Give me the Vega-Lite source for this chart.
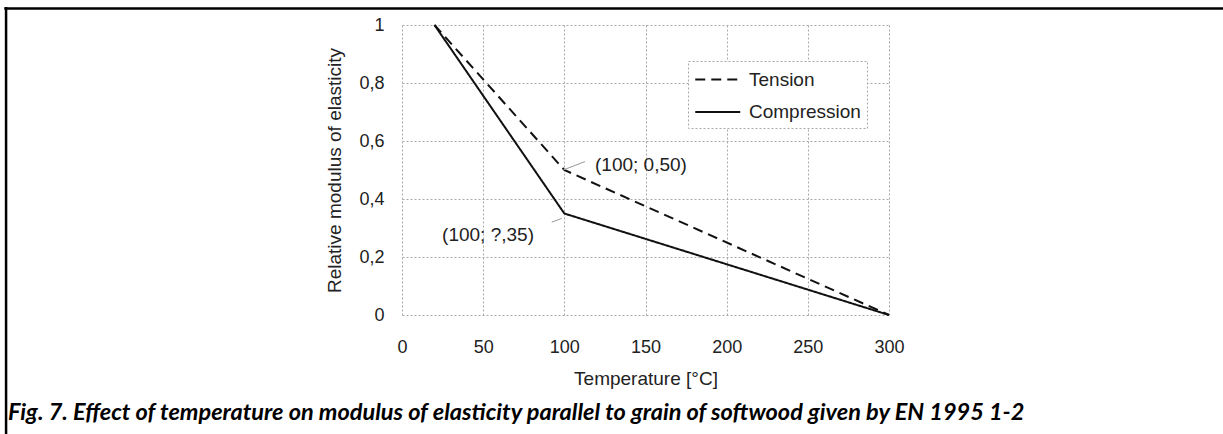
{
  "$schema": "https://vega.github.io/schema/vega-lite/v6.json",
  "width": 487,
  "height": 290,
  "autosize": "none",
  "padding": {"left": 402, "top": 25, "right": 334, "bottom": 119},
  "background": "white",
  "config": {
    "view": {"stroke": null},
    "font": "Liberation Sans",
    "axis": {
      "grid": true,
      "gridColor": "#a8a8a8",
      "gridDash": [2, 2],
      "gridWidth": 1,
      "domain": false,
      "ticks": false,
      "labelFlush": false,
      "labelBound": false,
      "labelOverlap": false,
      "labelFont": "Liberation Sans",
      "labelFontSize": 18,
      "labelColor": "#222",
      "titleFont": "Liberation Sans",
      "titleFontSize": 19,
      "titleFontWeight": "normal",
      "titleColor": "#222"
    }
  },
  "layer": [
    {
      "data": {"values": [{"k": 1}]},
      "mark": {"type": "rule", "color": "black", "strokeWidth": 2.5},
      "encoding": {
        "x": {"datum": -245, "type": "quantitative"},
        "x2": {"datum": 506},
        "y": {"datum": 1.0569, "type": "quantitative"}
      }
    },
    {
      "data": {"values": [{"k": 1}]},
      "mark": {"type": "rule", "color": "black", "strokeWidth": 2.5},
      "encoding": {
        "x": {"datum": -243.9, "type": "quantitative"},
        "y": {"datum": 1.062, "type": "quantitative"},
        "y2": {"datum": -0.42}
      }
    },
    {
      "data": {
        "values": [
          {"series": "Tension", "temp": 20, "value": 1},
          {"series": "Tension", "temp": 100, "value": 0.5},
          {"series": "Tension", "temp": 300, "value": 0},
          {"series": "Compression", "temp": 20, "value": 1},
          {"series": "Compression", "temp": 100, "value": 0.35},
          {"series": "Compression", "temp": 300, "value": 0}
        ]
      },
      "mark": {"type": "line", "color": "#111", "strokeWidth": 2},
      "encoding": {
        "x": {
          "field": "temp",
          "type": "quantitative",
          "scale": {"domain": [0, 300], "nice": false, "zero": false},
          "axis": {
            "values": [0, 50, 100, 150, 200, 250, 300],
            "title": "Temperature [°C]",
            "labelPadding": 23,
            "titlePadding": 13
          }
        },
        "y": {
          "field": "value",
          "type": "quantitative",
          "scale": {"domain": [0, 1], "nice": false, "zero": false},
          "axis": {
            "values": [0, 0.2, 0.4, 0.6, 0.8, 1],
            "title": "Relative modulus of elasticity",
            "labelExpr": "replace(format(datum.value, '~g'), '.', ',')",
            "labelPadding": 18,
            "titlePadding": 14
          }
        },
        "strokeDash": {
          "field": "series",
          "type": "nominal",
          "scale": {"domain": ["Tension", "Compression"], "range": [[10, 6], [1, 0]]},
          "legend": {
            "title": null,
            "orient": "none",
            "legendX": 286,
            "legendY": 36,
            "symbolType": "M-1,0H3",
            "symbolSize": 506,
            "symbolStrokeWidth": 2,
            "symbolStrokeColor": "#111",
            "labelFont": "Liberation Sans",
            "labelFontSize": 19,
            "labelColor": "#222",
            "labelOffset": 30,
            "rowPadding": 9.5,
            "padding": 6,
            "strokeColor": "#a8a8a8",
            "fillColor": "white",
            "encode": {
              "legend": {"update": {"strokeDash": {"value": [2, 2]}}}
            }
          }
        },
        "detail": {"field": "series"}
      }
    },
    {
      "data": {
        "values": [
          {"x": 99.3, "y": 0.5, "x2": 112.7, "y2": 0.529},
          {"x": 92.2, "y": 0.32, "x2": 98.4, "y2": 0.333}
        ]
      },
      "mark": {"type": "rule", "color": "#999", "strokeWidth": 1},
      "encoding": {
        "x": {"field": "x", "type": "quantitative"},
        "y": {"field": "y", "type": "quantitative"},
        "x2": {"field": "x2"},
        "y2": {"field": "y2"}
      }
    },
    {
      "data": {
        "values": [
          {"label": "(100; 0,50)", "x": 147.2, "y": 0.517},
          {"label": "(100; ?,35)", "x": 53, "y": 0.276}
        ]
      },
      "mark": {"type": "text", "font": "Liberation Sans", "fontSize": 19, "color": "#222", "align": "center", "baseline": "middle"},
      "encoding": {
        "x": {"field": "x", "type": "quantitative"},
        "y": {"field": "y", "type": "quantitative"},
        "text": {"field": "label"}
      }
    },
    {
      "data": {"values": [{"caption": "Fig. 7. Effect of temperature on modulus of elasticity parallel to grain of softwood given by EN 1995 1-2"}]},
      "mark": {"type": "text", "font": "Lato", "fontSize": 23.5, "fontStyle": "italic", "fontWeight": "bold", "color": "black", "align": "left", "baseline": "alphabetic"},
      "encoding": {
        "x": {"datum": -242.7, "type": "quantitative"},
        "y": {"datum": -0.362, "type": "quantitative"},
        "text": {"field": "caption"}
      }
    }
  ]
}
